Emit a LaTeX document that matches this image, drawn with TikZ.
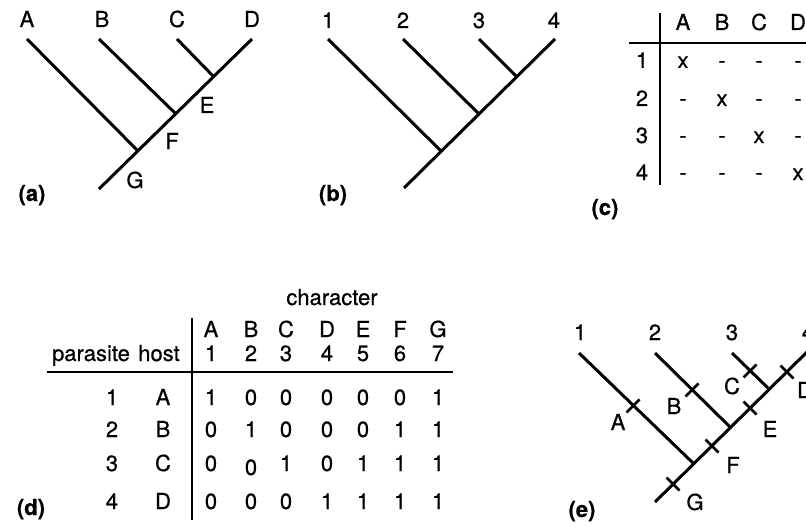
\documentclass[tikz,border=0pt]{standalone}
\usepackage{fontspec}
\setmainfont[FakeBold=0.6]{TeX Gyre Heros}
\usetikzlibrary{calc}
\begin{document}
\begin{tikzpicture}[x=1pt,y=-1pt,
  branch/.style={line width=3pt},
  vrule/.style={line width=2.5pt},
  hrule/.style={line width=1.8pt},
  lbl/.style={anchor=base,inner sep=0pt,font=\fontsize{22}{26}\selectfont},
  tickmark/.style={line width=2.8pt}]
\useasboundingbox (0,0) rectangle (806,527);
\clip (0,0) rectangle (806,527);

% ---------- (a) host tree ----------
\coordinate (aA) at (27,39);
\coordinate (aB) at (99,39);
\coordinate (aC) at (177,39);
\coordinate (aD) at (252,39);
\coordinate (aE) at (213,76);
\coordinate (aF) at (176,114);
\coordinate (aG) at (138,151);
\coordinate (aR) at (99,189);
\draw[branch] (aA) -- (aG);
\draw[branch] (aB) -- (aF);
\draw[branch] (aC) -- (aE);
\draw[branch] (aD) -- (aR);
\node[lbl] (laA) at (27,27) {A};
\node[lbl] (laB) at (102,27) {B};
\node[lbl] (laC) at (177,27) {C};
\node[lbl] (laD) at (252,27) {D};
\node[lbl] (laE) at (207,113) {E};
\node[lbl] (laF) at (172,149) {F};
\node[lbl] (laG) at (135,188) {G};
\node[lbl] (capa) at (32,201) {\textbf{(a)}};

% ---------- (b) parasite tree ----------
\coordinate (b1) at (328,39);
\coordinate (b2) at (403,39);
\coordinate (b3) at (479,39);
\coordinate (b4) at (555,39);
\coordinate (bE) at (516,76);
\coordinate (bF) at (478,113);
\coordinate (bG) at (441,151);
\coordinate (bR) at (404,188);
\draw[branch] (b1) -- (bG);
\draw[branch] (b2) -- (bF);
\draw[branch] (b3) -- (bE);
\draw[branch] (b4) -- (bR);
\node[lbl] (lb1) at (328,28) {1};
\node[lbl] (lb2) at (403,28) {2};
\node[lbl] (lb3) at (479,28) {3};
\node[lbl] (lb4) at (554,28) {4};
\node[lbl] (capb) at (333,201) {\textbf{(b)}};

% ---------- (c) association table ----------
\coordinate (cvt) at (660,13);
\coordinate (cvb) at (660,185);
\coordinate (chl) at (629,43);
\coordinate (chr) at (806,43);
\draw[vrule] (cvt) -- (cvb);
\draw[hrule] (chl) -- (chr);
\foreach \h/\x in {A/683,B/722,C/759,D/798}
  \node[lbl] (ch\h) at (\x,30) {\h};
\foreach \r/\y/\cells in {1/68/{x,-,-,-},2/106/{-,x,-,-},3/143/{-,-,x,-},4/180/{-,-,-,x}}{
  \node[lbl] (cr\r) at (642,\y) {\r};
  \foreach \v [count=\k] in \cells {
    \pgfmathsetmacro\xx{{683,722,759,798}[\k-1]}
    \node[lbl] (c\r-\k) at (\xx,\y) {\v};
  }
}
\node[lbl] (capc) at (605,215) {\textbf{(c)}};

% ---------- (d) character matrix ----------
\node[lbl] (dchar) at (332,305) {character};
\coordinate (dvt) at (192,318);
\coordinate (dvb) at (192,520);
\coordinate (dhl) at (47,372);
\coordinate (dhr) at (453,372);
\draw[vrule] (dvt) -- (dvb);
\draw[hrule] (dhl) -- (dhr);
\node[lbl] (dpar) at (91,361) {parasite};
\node[lbl] (dhost) at (159,361) {host};
\foreach \h [count=\k] in {A,B,C,D,E,F,G}{
  \pgfmathsetmacro\xx{{211,251,286,327,363,400,438}[\k-1]}
  \node[lbl] (dh\k) at (\xx,337) {\h};
  \node[lbl] (dn\k) at (\xx,361) {\k};
}
\foreach \r/\y/\hh/\bits in {1/405/A/{1,0,0,0,0,0,1},
                             2/437/B/{0,1,0,0,0,1,1},
                             3/471/C/{0,\raisebox{-4pt}{0},1,0,1,1,1},
                             4/509/D/{0,0,0,1,1,1,1}}{
  \node[lbl] (dp\r) at (112,\y) {\r};
  \node[lbl] (dq\r) at (163,\y) {\hh};
  \foreach \v [count=\k] in \bits {
    \pgfmathsetmacro\xx{{211,251,286,327,363,400,438}[\k-1]}
    \node[lbl] (d\r-\k) at (\xx,\y) {\v};
  }
}
\node[lbl] (capd) at (31,515) {\textbf{(d)}};

% ---------- (e) parasite tree with mapped characters ----------
\coordinate (e1) at (579,353);
\coordinate (e2) at (655,353);
\coordinate (e3) at (732,353);
\coordinate (e4) at (808,351);
\coordinate (eE) at (768,388);
\coordinate (eF) at (730,427);
\coordinate (eG) at (693,463);
\coordinate (eR) at (655,502);
\draw[branch] (e1) -- (eG);
\draw[branch] (e2) -- (eF);
\draw[branch] (e3) -- (eE);
\draw[branch] (e4) -- (eR);
% character changes across branches
\coordinate (tA) at (633,406);
\coordinate (tB) at (692,390);
\coordinate (tC) at (750,371);
\coordinate (tD) at (787,372);
\coordinate (tE) at (750,408);
\coordinate (tF) at (712,446);
\coordinate (tG) at (673,484);
\foreach \t in {tA,tB,tC}
  \draw[tickmark] ($(\t)+(-6.5,6.5)$) -- ($(\t)+(6.5,-6.5)$);
\foreach \t in {tD,tE,tF,tG}
  \draw[tickmark] ($(\t)+(-6.5,-6.5)$) -- ($(\t)+(6.5,6.5)$);
\node[lbl] (le1) at (580,340) {1};
\node[lbl] (le2) at (655,340) {2};
\node[lbl] (le3) at (732,340) {3};
\node[lbl] (le4) at (808,340) {4};
\node[lbl] (leA) at (618,430) {A};
\node[lbl] (leB) at (674,414) {B};
\node[lbl] (leC) at (732,394) {C};
\node[lbl] (leD) at (805,398) {D};
\node[lbl] (leE) at (770,437) {E};
\node[lbl] (leF) at (733,473) {F};
\node[lbl] (leG) at (695,510) {G};
\node[lbl] (cape) at (582,517) {\textbf{(e)}};
\end{tikzpicture}
\end{document}
